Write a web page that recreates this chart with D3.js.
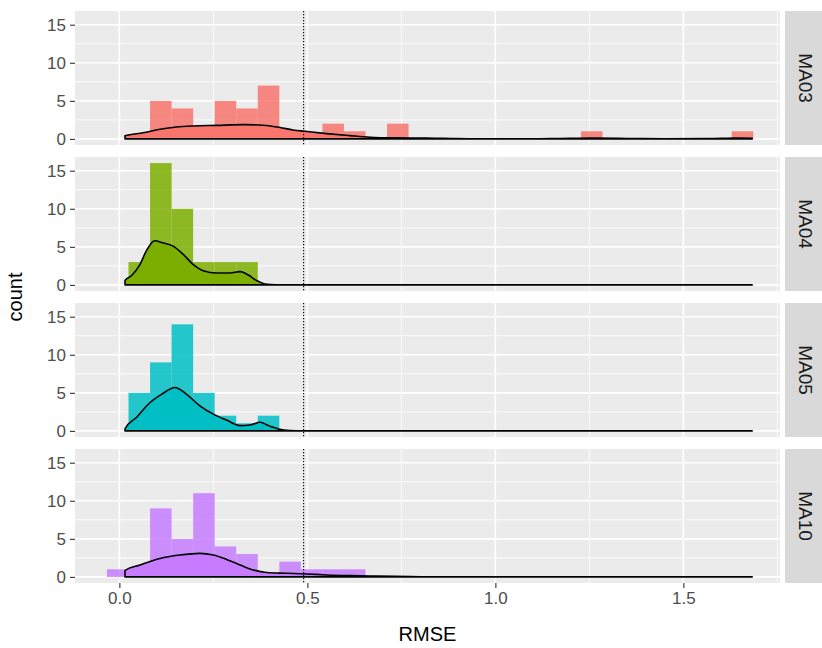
<!DOCTYPE html>
<html>
<head>
<meta charset="utf-8">
<script src="https://cdn.jsdelivr.net/npm/d3@7"></script>
<style>
  body { margin: 0; background: #fff; }
  text { font-family: "Liberation Sans", Arial, Helvetica, sans-serif; }
</style>
</head>
<body>
<svg id="chart" width="822" height="648"></svg>
<script>
// ---- data ----
const facets = ["MA03", "MA04", "MA05", "MA10"];
const facetColors = ["#F8766D", "#7CAE00", "#00BFC4", "#C77CFF"];

// left edges of the 30 histogram bins (RMSE); every bin is binWidth wide
const binStarts = [-0.0330, 0.0243, 0.0816, 0.1389, 0.1962, 0.2535, 0.3108, 0.3681, 0.4254, 0.4827,
                   0.5400, 0.5973, 0.6546, 0.7119, 0.7692, 0.8265, 0.8838, 0.9411, 0.9984, 1.0557,
                   1.1130, 1.1703, 1.2276, 1.2849, 1.3422, 1.3995, 1.4568, 1.5141, 1.5714, 1.6287];
const binWidth = 0.0573;

const countsMA03 = [0, 0, 5, 4, 1, 5, 4, 7, 0, 0, 2, 1, 0, 2, 0, 0, 0, 0, 0, 0, 0, 0, 1, 0, 0, 0, 0, 0, 0, 1];
const countsMA04 = [0, 3, 16, 10, 3, 3, 3, 0, 0, 0, 0, 0, 0, 0, 0, 0, 0, 0, 0, 0, 0, 0, 0, 0, 0, 0, 0, 0, 0, 0];
const countsMA05 = [0, 5, 9, 14, 5, 2, 1, 2, 0, 0, 0, 0, 0, 0, 0, 0, 0, 0, 0, 0, 0, 0, 0, 0, 0, 0, 0, 0, 0, 0];
const countsMA10 = [1, 1, 9, 5, 11, 4, 3, 0, 2, 1, 1, 1, 0, 0, 0, 0, 0, 0, 0, 0, 0, 0, 0, 0, 0, 0, 0, 0, 0, 0];

// kernel density curves (x = RMSE, y = density)
const densXMA03 = [0.015, 0.063, 0.108, 0.152, 0.196, 0.259, 0.330, 0.383, 0.427, 0.462, 0.494, 0.551, 0.613, 0.667, 0.728, 0.817, 0.86, 0.95, 1.10, 1.17, 1.26, 1.36, 1.45, 1.57, 1.64, 1.683];
const densYMA03 = [0.40, 0.80, 1.26, 1.56, 1.70, 1.78, 1.87, 1.80, 1.50, 1.17, 1.00, 0.70, 0.43, 0.22, 0.13, 0.10, 0.08, 0.02, 0.01, 0.05, 0.10, 0.05, 0.01, 0.04, 0.10, 0.08];
const densXMA04 = [0.015, 0.032, 0.055, 0.072, 0.094, 0.117, 0.143, 0.170, 0.196, 0.223, 0.259, 0.294, 0.321, 0.343, 0.365, 0.387, 0.418, 0.46, 1.683];
const densYMA04 = [0.60, 1.20, 2.70, 4.50, 5.80, 5.50, 5.10, 4.00, 2.70, 1.87, 1.57, 1.57, 1.74, 1.30, 0.57, 0.13, 0.02, 0.00, 0.00];
const densXMA05 = [0.015, 0.046, 0.081, 0.112, 0.148, 0.179, 0.214, 0.250, 0.285, 0.321, 0.347, 0.375, 0.396, 0.423, 0.454, 0.49, 1.683];
const densYMA05 = [0.26, 1.80, 3.70, 4.80, 5.70, 4.80, 3.30, 2.20, 1.43, 0.70, 0.78, 1.13, 0.70, 0.26, 0.05, 0.00, 0.00];
const densXMA10 = [0.015, 0.055, 0.108, 0.161, 0.214, 0.250, 0.285, 0.321, 0.356, 0.392, 0.445, 0.498, 0.551, 0.613, 0.684, 0.773, 0.85, 1.683];
const densYMA10 = [0.83, 1.57, 2.43, 2.87, 3.09, 2.87, 2.30, 1.57, 0.91, 0.57, 0.48, 0.39, 0.26, 0.17, 0.10, 0.05, 0.00, 0.00];

const yTicks = [0, 5, 10, 15];
const yMinor = [2.5, 7.5, 12.5];
const xTicks = [0, 0.5, 1.0, 1.5];
const xMinor = [0.25, 0.75, 1.25, 1.75];
const refLine = 0.49;

const counts = [countsMA03, countsMA04, countsMA05, countsMA10];
const densX = [densXMA03, densXMA04, densXMA05, densXMA10];
const densY = [densYMA03, densYMA04, densYMA05, densYMA10];

// ---- layout ----
const svg = d3.select("#chart");
const panelLeft = 75, panelRight = 780;
const panelTop = 11, panelH = 134, panelGap = 12;
const stripX = 785, stripW = 42;

const x = d3.scaleLinear().domain([-0.118, 1.757]).range([panelLeft, panelRight]);
const y = d3.scaleLinear().domain([-0.8, 16.8]).range([panelH, 0]);

svg.append("rect").attr("width", 822).attr("height", 648).attr("fill", "#fff");

facets.forEach((name, i) => {
  const top = panelTop + i * (panelH + panelGap);
  const g = svg.append("g").attr("transform", `translate(0,${top})`);
  const color = facetColors[i];

  // panel background and grid
  g.append("rect").attr("x", panelLeft).attr("y", 0)
    .attr("width", panelRight - panelLeft).attr("height", panelH).attr("fill", "#EBEBEB");

  g.selectAll(".ymin").data(yMinor).join("line")
    .attr("x1", panelLeft).attr("x2", panelRight)
    .attr("y1", d => y(d)).attr("y2", d => y(d))
    .attr("stroke", "#fff").attr("stroke-width", 0.8);
  g.selectAll(".xmin").data(xMinor).join("line")
    .attr("x1", d => x(d)).attr("x2", d => x(d))
    .attr("y1", 0).attr("y2", panelH)
    .attr("stroke", "#fff").attr("stroke-width", 0.8);
  g.selectAll(".ymaj").data(yTicks).join("line")
    .attr("x1", panelLeft).attr("x2", panelRight)
    .attr("y1", d => y(d)).attr("y2", d => y(d))
    .attr("stroke", "#fff").attr("stroke-width", 1.6);
  g.selectAll(".xmaj").data(xTicks).join("line")
    .attr("x1", d => x(d)).attr("x2", d => x(d))
    .attr("y1", 0).attr("y2", panelH)
    .attr("stroke", "#fff").attr("stroke-width", 1.6);

  // histogram bars
  const bins = binStarts.map((s, k) => ({ x0: s, x1: s + binWidth, n: counts[i][k] }));
  g.selectAll(".bar").data(bins.filter(b => b.n > 0)).join("rect")
    .attr("x", d => x(d.x0))
    .attr("width", d => x(d.x1) - x(d.x0))
    .attr("y", d => y(d.n))
    .attr("height", d => y(0) - y(d.n))
    .attr("fill", color).attr("fill-opacity", 0.85);

  // density curve, filled and outlined as a closed polygon
  const pts = densX[i].map((v, k) => [v, densY[i][k]]);
  const poly = [[pts[0][0], 0], ...pts, [pts[pts.length - 1][0], 0]];
  const area = d3.line().x(d => x(d[0])).y(d => y(d[1])).curve(d3.curveMonotoneX);
  g.append("path").attr("d", area(poly) + "Z")
    .attr("fill", color).attr("fill-opacity", 1)
    .attr("stroke", "#000").attr("stroke-width", 1.6).attr("stroke-linejoin", "round");

  // dotted reference line
  g.append("line").attr("x1", x(refLine)).attr("x2", x(refLine))
    .attr("y1", 0).attr("y2", panelH)
    .attr("stroke", "#000").attr("stroke-width", 1.1).attr("stroke-dasharray", "1.2,1.8");

  // y axis
  const ya = g.append("g").attr("transform", `translate(${panelLeft},0)`)
    .call(d3.axisLeft(y).tickValues(yTicks).tickSize(5).tickPadding(4));
  ya.select(".domain").remove();
  ya.selectAll("line").attr("stroke", "#333").attr("stroke-width", 1.1);
  ya.selectAll("text").attr("fill", "#4D4D4D").attr("font-size", 17);

  // facet strip
  g.append("rect").attr("x", stripX).attr("y", 0).attr("width", stripW).attr("height", panelH)
    .attr("fill", "#D9D9D9");
  g.append("text").attr("transform", `translate(${stripX + 20},${panelH / 2}) rotate(90)`)
    .attr("text-anchor", "middle").attr("dominant-baseline", "central")
    .attr("font-size", 19).attr("fill", "#1A1A1A").text(name);

  // x axis on the bottom panel only
  if (i === facets.length - 1) {
    const xa = g.append("g").attr("transform", `translate(0,${panelH})`)
      .call(d3.axisBottom(x).tickValues(xTicks).tickFormat(d3.format(".1f")).tickSize(5).tickPadding(4));
    xa.select(".domain").remove();
    xa.selectAll("line").attr("stroke", "#333").attr("stroke-width", 1.1);
    xa.selectAll("text").attr("fill", "#4D4D4D").attr("font-size", 17);
  }
});

// axis titles
const bottom = panelTop + facets.length * panelH + (facets.length - 1) * panelGap;
svg.append("text").attr("x", (panelLeft + panelRight) / 2).attr("y", 641)
  .attr("text-anchor", "middle").attr("font-size", 20).attr("fill", "#000").text("RMSE");
svg.append("text")
  .attr("transform", `translate(22,${(panelTop + bottom) / 2}) rotate(-90)`)
  .attr("text-anchor", "middle").attr("font-size", 20).attr("fill", "#000").text("count");
</script>
</body>
</html>
